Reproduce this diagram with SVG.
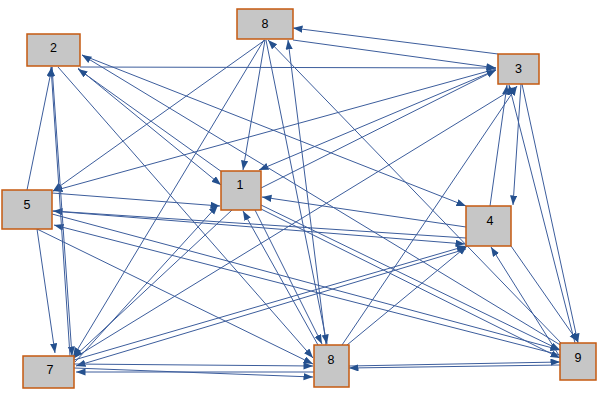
<svg xmlns="http://www.w3.org/2000/svg" width="609" height="397" viewBox="0 0 609 397">
<style>
.node rect{fill:#c6c6c6;stroke:#c55a11;stroke-width:1.5}
.node text{font-family:"Liberation Sans",Arial,sans-serif;font-size:12.5px;fill:#000;text-anchor:middle}
#edges path{fill:none;stroke:#3c5d9c;stroke-width:1;marker-end:url(#ah)}
</style>
<defs>
<marker id="ah" markerUnits="userSpaceOnUse" markerWidth="10" markerHeight="8" refX="9.5" refY="3.6" orient="auto">
<path d="M0,0 L9.5,3.6 L0,7.2 z" fill="#24508e"/>
</marker>
</defs>
<rect width="609" height="397" fill="#fff"/>
<g id="edges">
<path d="M498,54 L293,28"/>
<path d="M293,40 L496,68"/>
<path d="M80,67 L496,68"/>
<path d="M326,345 L288,40"/>
<path d="M266,40 L327,344"/>
<path d="M265,40 L53,191"/>
<path d="M264,40 L73,357"/>
<path d="M265,40 L243,170"/>
<path d="M562,344 L268,40"/>
<path d="M496,69 L53,191"/>
<path d="M52,193 L220,206"/>
<path d="M496,70 L259,170"/>
<path d="M261,188 L496,70"/>
<path d="M82,55 L466,206"/>
<path d="M562,346 L82,55"/>
<path d="M521,84 L513,205"/>
<path d="M490,206 L507,85"/>
<path d="M522,84 L578,343"/>
<path d="M575,343 L509,85"/>
<path d="M342,345 L517,86"/>
<path d="M74,358 L516,87"/>
<path d="M78,68 L221,185"/>
<path d="M222,172 L78,69"/>
<path d="M466,227 L262,197"/>
<path d="M52,211 L465,244"/>
<path d="M466,238 L53,211"/>
<path d="M52,214 L560,350"/>
<path d="M560,355 L54,225"/>
<path d="M37,229 L313,364"/>
<path d="M27,190 L52,67"/>
<path d="M52,67 L72,356"/>
<path d="M70,356 L51,67"/>
<path d="M37,229 L55,353"/>
<path d="M232,210 L73,358"/>
<path d="M75,362 L218,205"/>
<path d="M74,360 L466,246"/>
<path d="M466,249 L76,366"/>
<path d="M74,364 L313,366"/>
<path d="M314,372 L76,372"/>
<path d="M74,368 L313,377"/>
<path d="M349,366 L560,362"/>
<path d="M560,365 L349,368"/>
<path d="M347,345 L467,246"/>
<path d="M511,246 L578,342"/>
<path d="M560,357 L491,247"/>
<path d="M261,205 L560,350"/>
<path d="M261,209 L560,358"/>
<path d="M318,345 L243,211"/>
<path d="M255,210 L322,344"/>
<path d="M58,67 L313,358"/>
</g>
<g id="n8a" class="node"><rect x="237" y="9" width="56" height="30"/><text x="265" y="27.5">8</text></g>
<g id="n2" class="node"><rect x="27" y="34" width="53" height="32"/><text x="53.5" y="52">2</text></g>
<g id="n3" class="node"><rect x="498" y="54" width="41" height="30"/><text x="518.5" y="73">3</text></g>
<g id="n1" class="node"><rect x="221" y="171" width="40" height="39"/><text x="240" y="189">1</text></g>
<g id="n5" class="node"><rect x="2" y="190" width="50" height="39"/><text x="27" y="209">5</text></g>
<g id="n4" class="node"><rect x="466" y="206" width="45" height="40"/><text x="490" y="225">4</text></g>
<g id="n7" class="node"><rect x="23" y="356" width="51" height="32"/><text x="50" y="374">7</text></g>
<g id="n8b" class="node"><rect x="314" y="345" width="35" height="42"/><text x="331" y="364">8</text></g>
<g id="n9" class="node"><rect x="560" y="343" width="36" height="37"/><text x="578" y="362">9</text></g>
</svg>
